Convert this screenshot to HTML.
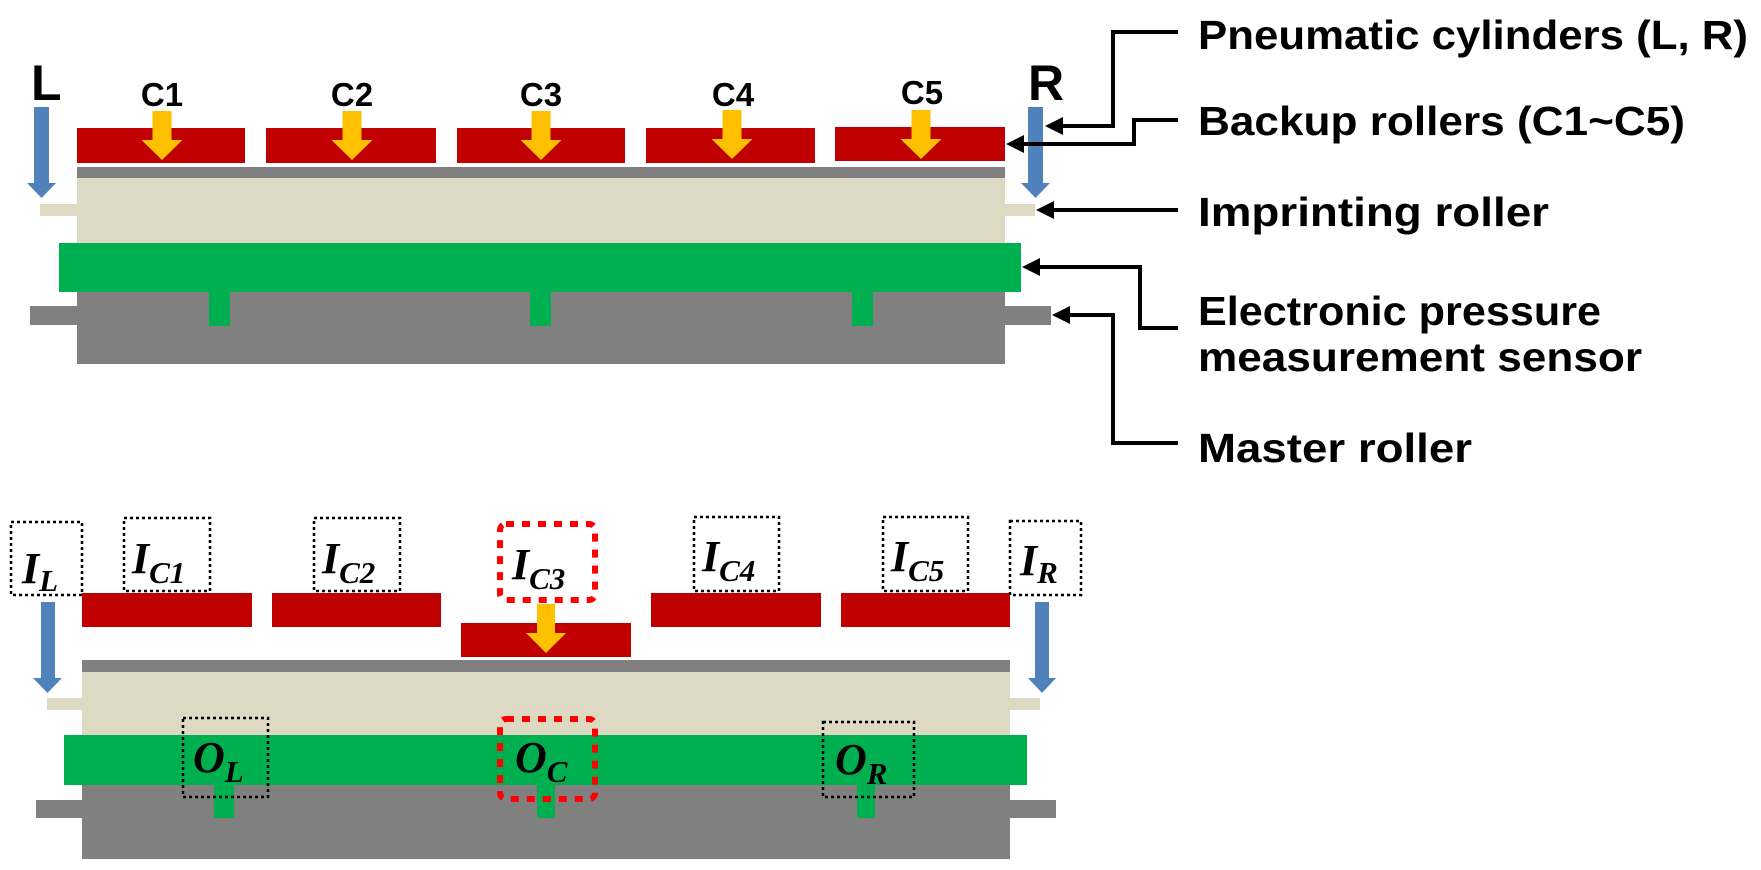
<!DOCTYPE html>
<html><head><meta charset="utf-8"><style>html,body{margin:0;padding:0;background:#fff}svg{display:block}</style></head><body>
<svg width="1761" height="870" viewBox="0 0 1761 870" xmlns="http://www.w3.org/2000/svg">
<g font-family="Liberation Sans, sans-serif" font-weight="bold">
<text x="31" y="100" font-size="50">L</text>
<text x="1028" y="100" font-size="50">R</text>
<path d="M34 107H49V183H56L41.5 198L27 183H34Z" fill="#4F81BD"/>
<path d="M1028 107H1043V183H1050L1035.5 198L1021 183H1028Z" fill="#4F81BD"/>
<rect x="77" y="128" width="168" height="35" fill="#C00000"/>
<rect x="266" y="128" width="170" height="35" fill="#C00000"/>
<rect x="457" y="128" width="168" height="35" fill="#C00000"/>
<rect x="646" y="128" width="169" height="35" fill="#C00000"/>
<rect x="835" y="127" width="170" height="34" fill="#C00000"/>
<g font-size="33" text-anchor="middle">
<text x="162" y="106">C1</text><text x="352" y="106">C2</text><text x="541" y="106">C3</text><text x="733" y="106">C4</text><text x="922" y="104">C5</text>
</g>
<g fill="#FFC000">
<path d="M152.5 111h19v29h11l-20.5 20l-20.5 -20h11z"/>
<path d="M342.5 111h19v29h11l-20.5 20l-20.5 -20h11z"/>
<path d="M531.5 111h19v29h11l-20.5 20l-20.5 -20h11z"/>
<path d="M722.5 110h19v29h11l-20.5 20l-20.5 -20h11z"/>
<path d="M911.5 110h19v29h11l-20.5 20l-20.5 -20h11z"/>
</g>
<rect x="77" y="167" width="928" height="11" fill="#808080"/>
<rect x="77" y="178" width="928" height="65" fill="#DDD9C3"/>
<rect x="40" y="204" width="37" height="12" fill="#DDD9C3"/>
<rect x="1005" y="204" width="30" height="12" fill="#DDD9C3"/>
<rect x="77" y="292" width="928" height="72" fill="#808080"/>
<rect x="30" y="306" width="47" height="19" fill="#808080"/>
<rect x="1005" y="306" width="46" height="19" fill="#808080"/>
<rect x="59" y="243" width="962" height="49" fill="#00B050"/>
<rect x="209" y="292" width="21" height="34" fill="#00B050"/>
<rect x="530" y="292" width="21" height="34" fill="#00B050"/>
<rect x="852" y="292" width="21" height="34" fill="#00B050"/>

<g fill="none" stroke="#000" stroke-width="4">
<path d="M1178 32H1113V126H1060"/>
<path d="M1178 120H1134V144H1022"/>
<path d="M1178 210H1052"/>
<path d="M1178 328H1140V267H1038"/>
<path d="M1178 443H1113V315H1068"/>
</g>
<g fill="#000">
<path d="M1045 126l18 -9v18z"/>
<path d="M1006 144l18 -9v18z"/>
<path d="M1036 210l18 -9v18z"/>
<path d="M1022 267l18 -9v18z"/>
<path d="M1052 315l18 -9v18z"/>
</g>
<g font-size="41">
<text x="1198" y="49" textLength="550" lengthAdjust="spacingAndGlyphs">Pneumatic cylinders (L, R)</text>
<text x="1198" y="135" textLength="487" lengthAdjust="spacingAndGlyphs">Backup rollers (C1~C5)</text>
<text x="1198" y="226" textLength="351" lengthAdjust="spacingAndGlyphs">Imprinting roller</text>
<text x="1198" y="325" textLength="403" lengthAdjust="spacingAndGlyphs">Electronic pressure</text>
<text x="1198" y="371" textLength="444" lengthAdjust="spacingAndGlyphs">measurement sensor</text>
<text x="1198" y="462" textLength="274" lengthAdjust="spacingAndGlyphs">Master roller</text>
</g>
</g>

<rect x="82" y="593" width="170" height="34" fill="#C00000"/>
<rect x="272" y="593" width="169" height="34" fill="#C00000"/>
<rect x="461" y="623" width="170" height="34" fill="#C00000"/>
<rect x="651" y="593" width="170" height="34" fill="#C00000"/>
<rect x="841" y="593" width="169" height="34" fill="#C00000"/>
<path d="M537 604h18v29h11l-20 20l-20 -20h11z" fill="#FFC000"/>
<path d="M41 602H55V678H62L47.5 693L33 678H41Z" fill="#4F81BD"/>
<path d="M1035 602H1049V678H1056L1042 693L1028 678H1035Z" fill="#4F81BD"/>
<rect x="82" y="660" width="928" height="12" fill="#808080"/>
<rect x="82" y="672" width="928" height="63" fill="#DDD9C3"/>
<rect x="47" y="698" width="35" height="12" fill="#DDD9C3"/>
<rect x="1010" y="698" width="30" height="12" fill="#DDD9C3"/>
<rect x="82" y="785" width="928" height="74" fill="#808080"/>
<rect x="36" y="800" width="46" height="18" fill="#808080"/>
<rect x="1010" y="800" width="46" height="18" fill="#808080"/>
<rect x="64" y="735" width="963" height="50" fill="#00B050"/>
<rect x="214" y="785" width="20" height="33" fill="#00B050"/>
<rect x="537" y="785" width="18" height="33" fill="#00B050"/>
<rect x="857" y="785" width="18" height="33" fill="#00B050"/>

<g fill="none" stroke="#000" stroke-width="2.5" stroke-dasharray="3 3">
<rect x="11" y="522" width="71" height="73"/>
<rect x="124" y="518" width="86" height="73"/>
<rect x="314" y="518" width="86" height="73"/>
<rect x="694" y="517" width="85" height="74"/>
<rect x="883" y="517" width="85" height="74"/>
<rect x="1010" y="521" width="71" height="74"/>
<rect x="183" y="718" width="85" height="79"/>
<rect x="823" y="722" width="91" height="75"/>
</g>
<g fill="none" stroke="#FF0000" stroke-width="6" stroke-dasharray="8 8">
<rect x="500" y="524" width="95" height="76" rx="6"/>
<rect x="500" y="719" width="95" height="80" rx="6"/>
</g>
<g font-family="Liberation Serif, serif" font-style="italic" font-weight="bold" fill="#000">
<text x="22" y="583" font-size="44">I<tspan font-size="31" dy="8">L</tspan></text>
<text x="132" y="573" font-size="44">I<tspan font-size="31" dy="10">C1</tspan></text>
<text x="322" y="573" font-size="44">I<tspan font-size="31" dy="10">C2</tspan></text>
<text x="512" y="579" font-size="44">I<tspan font-size="31" dy="10">C3</tspan></text>
<text x="702" y="571" font-size="44">I<tspan font-size="31" dy="10">C4</tspan></text>
<text x="891" y="571" font-size="44">I<tspan font-size="31" dy="10">C5</tspan></text>
<text x="1020" y="575" font-size="44">I<tspan font-size="31" dy="8">R</tspan></text>
<text x="193" y="772" font-size="44">O<tspan font-size="31" dy="10">L</tspan></text>
<text x="515" y="772" font-size="44">O<tspan font-size="31" dy="10">C</tspan></text>
<text x="835" y="774" font-size="44">O<tspan font-size="31" dy="10">R</tspan></text>
</g>
</svg>
</body></html>
